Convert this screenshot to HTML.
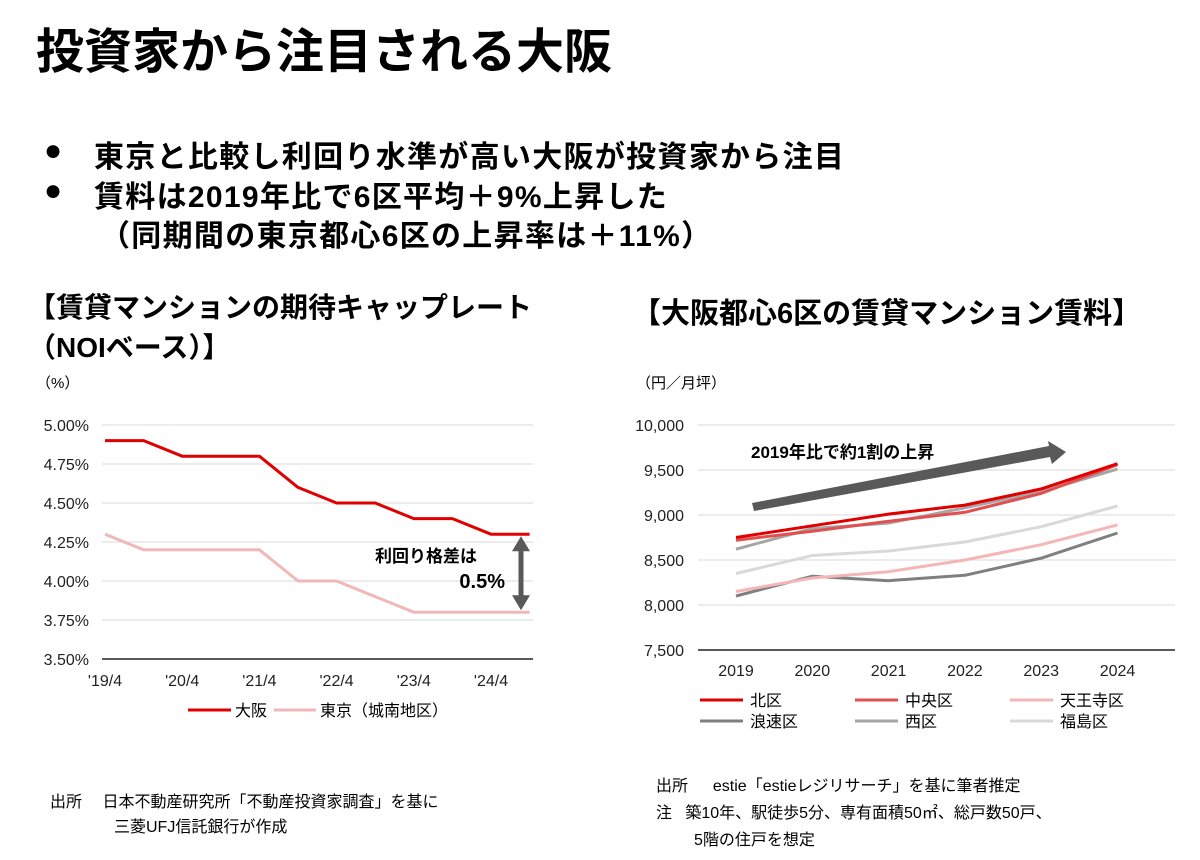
<!DOCTYPE html>
<html><head><meta charset="utf-8">
<style>
body{margin:0;width:1200px;height:860px;background:#fff;overflow:hidden;font-family:"Liberation Sans","Noto Sans CJK JP",sans-serif;color:#000;position:relative}
.a{position:absolute;white-space:nowrap}
</style></head><body>
<div class="a" style="left:36px;top:24px;font-size:48px;font-weight:bold;line-height:58px;">投資家から注目される大阪</div>
<div class="a" style="left:44px;top:134px;font-size:30px;">●</div>
<div class="a" style="left:94px;top:132px;font-size:30px;font-weight:bold;letter-spacing:1.3px;">東京と比較し利回り水準が高い大阪が投資家から注目</div>
<div class="a" style="left:44px;top:174px;font-size:30px;">●</div>
<div class="a" style="left:94px;top:172px;font-size:30px;font-weight:bold;letter-spacing:1.3px;">賃料は2019年比で6区平均＋9%上昇した</div>
<div class="a" style="left:100px;top:211px;font-size:30px;font-weight:bold;letter-spacing:1.3px;">（同期間の東京都心6区の上昇率は＋11%）</div>

<div class="a" style="left:28px;top:288px;font-size:28px;font-weight:bold;line-height:40px;">【賃貸マンションの期待キャップレート<br>（NOIベース）】</div>
<div class="a" style="left:632px;top:290px;font-size:29px;font-weight:bold;">【大阪都心6区の賃貸マンション賃料】</div>
<div class="a" style="left:36px;top:372px;font-size:15px;">（%）</div>
<div class="a" style="left:636px;top:372px;font-size:15px;">（円／月坪）</div>

<svg class="a" style="left:0;top:0" width="1200" height="860" id="svg"></svg>

<div class="a" style="left:50px;top:790px;font-size:16px;line-height:25px;">出所　&nbsp;日本不動産研究所「不動産投資家調査」を基に<br><span style="padding-left:64px">三菱UFJ信託銀行が作成</span></div>
<div class="a" style="left:656px;top:773px;font-size:16px;line-height:27px;">出所　&nbsp;&nbsp;estie「estieレジリサーチ」を基に筆者推定<br>注&nbsp;&nbsp;&nbsp;築10年、駅徒歩5分、専有面積50㎡、総戸数50戸、<br><span style="padding-left:38px">5階の住戸を想定</span></div>

<script>
const capLabels=["'19/4","","'20/4","","'21/4","","'22/4","","'23/4","","'24/4",""];
const osaka=[4.9,4.9,4.8,4.8,4.8,4.6,4.5,4.5,4.4,4.4,4.3,4.3];
const tokyo=[4.3,4.2,4.2,4.2,4.2,4.0,4.0,3.9,3.8,3.8,3.8,3.8];
const capTicks=[3.5,3.75,4.0,4.25,4.5,4.75,5.0];
const years=["2019","2020","2021","2022","2023","2024"];
const kita=[8750,8880,9010,9110,9290,9570];
const chuo=[8720,8820,8930,9030,9240,9560];
const tennoji=[8150,8300,8370,8500,8670,8890];
const naniwa=[8100,8320,8270,8330,8520,8800];
const nishi=[8620,8850,8910,9080,9260,9510];
const fukushima=[8350,8550,8600,8700,8870,9100];
const rentTicks=[7500,8000,8500,9000,9500,10000];

const svg=document.getElementById('svg');const NS='http://www.w3.org/2000/svg';
function el(t,a,txt){const e=document.createElementNS(NS,t);for(const k in a)e.setAttribute(k,a[k]);if(txt!==undefined)e.textContent=txt;svg.appendChild(e);return e;}
const FF='"Liberation Sans","Noto Sans CJK JP",sans-serif';
// left chart
const ly=v=>659-(v-3.5)/1.5*234, lx=i=>105+i*38.6;
capTicks.forEach(t=>{const g=el('line',{x1:102,x2:533,y1:ly(t),y2:ly(t),stroke:t==3.5?'#595959':'#d9d9d9','stroke-width':t==3.5?2:1});

const tx=el('text',{x:89,y:ly(t)+6,'text-anchor':'end','font-size':16,'font-family':FF,fill:'#222'},t.toFixed(2)+'%');
});
capLabels.forEach((l,i)=>{if(!l)return;const t=el('text',{x:lx(i),y:686,'text-anchor':'middle','font-size':16,'font-family':FF,fill:'#222'},l);
});
function poly(arr,xf,yf,col,w,name){const p=el('polyline',{points:arr.map((v,i)=>xf(i)+','+yf(v)).join(' '),fill:'none',stroke:col,'stroke-width':w,'stroke-linejoin':'round'});
}
poly(tokyo,lx,ly,'#f0b8b8',3,'tokyo-line');
poly(osaka,lx,ly,'#e00000',3,'osaka-line');
// gap arrow
const ax=521;
el('line',{x1:ax,x2:ax,y1:ly(4.3)+14,y2:ly(3.8)-14,stroke:'#595959','stroke-width':5});
el('polygon',{points:`${ax-9},${ly(4.3)+17} ${ax+9},${ly(4.3)+17} ${ax},${ly(4.3)+2}`,fill:'#595959'});
el('polygon',{points:`${ax-9},${ly(3.8)-17} ${ax+9},${ly(3.8)-17} ${ax},${ly(3.8)-2}`,fill:'#595959'});
let t1=el('text',{x:477,y:562,'text-anchor':'end','font-size':17,'font-weight':'bold','font-family':FF},'利回り格差は');
let t2=el('text',{x:505,y:588,'text-anchor':'end','font-size':20,'font-weight':'bold','font-family':FF},'0.5%');
// left legend
el('line',{x1:188,x2:231,y1:710,y2:710,stroke:'#e00000','stroke-width':3});
let lg1=el('text',{x:235,y:716,'font-size':16,'font-family':FF},'大阪');
el('line',{x1:274,x2:316,y1:710,y2:710,stroke:'#f0b8b8','stroke-width':3});
let lg2=el('text',{x:320,y:716,'font-size':16,'font-family':FF},'東京（城南地区）');

// right chart
const ry=v=>650-(v-7500)/2500*225, rx=i=>736+i*76.3;
rentTicks.forEach(t=>{const g=el('line',{x1:698,x2:1175,y1:ry(t),y2:ry(t),stroke:t==7500?'#595959':'#d9d9d9','stroke-width':t==7500?2:1});

const tx=el('text',{x:684,y:ry(t)+6,'text-anchor':'end','font-size':16,'font-family':FF,fill:'#222'},t.toLocaleString('en-US'));
});
years.forEach((y,i)=>{const t=el('text',{x:rx(i),y:676,'text-anchor':'middle','font-size':16,'font-family':FF,fill:'#222'},y);
});
// trend arrow
const tr=el('polygon',{points:'752,503 1049,446 1048,441 1066,452 1052,464 1050,457 754,511',fill:'#595959'});

let ta=el('text',{x:751,y:458,'font-size':17,'font-weight':'bold','font-family':FF},'2019年比で約1割の上昇');
const series=[[fukushima,'#d9d9d9','福島区'],[nishi,'#a6a6a6','西区'],[naniwa,'#7f7f7f','浪速区'],[tennoji,'#f4b6b6','天王寺区'],[chuo,'#e05050','中央区'],[kita,'#e00000','北区']];
series.forEach(s=>poly(s[0],rx,ry,s[1],3,'line-'+s[2]));
const leg=[[kita,'#e00000','北区'],[chuo,'#e05050','中央区'],[tennoji,'#f4b6b6','天王寺区'],[naniwa,'#7f7f7f','浪速区'],[nishi,'#a6a6a6','西区'],[fukushima,'#d9d9d9','福島区']];
leg.forEach((s,i)=>{const c=i%3,r=Math.floor(i/3);const x=700+c*155,y=700+r*21;
el('line',{x1:x,x2:x+43,y1:y,y2:y,stroke:s[1],'stroke-width':3});
const t=el('text',{x:x+50,y:y+6,'font-size':16,'font-family':FF},s[2]);});
</script>
</body></html>
